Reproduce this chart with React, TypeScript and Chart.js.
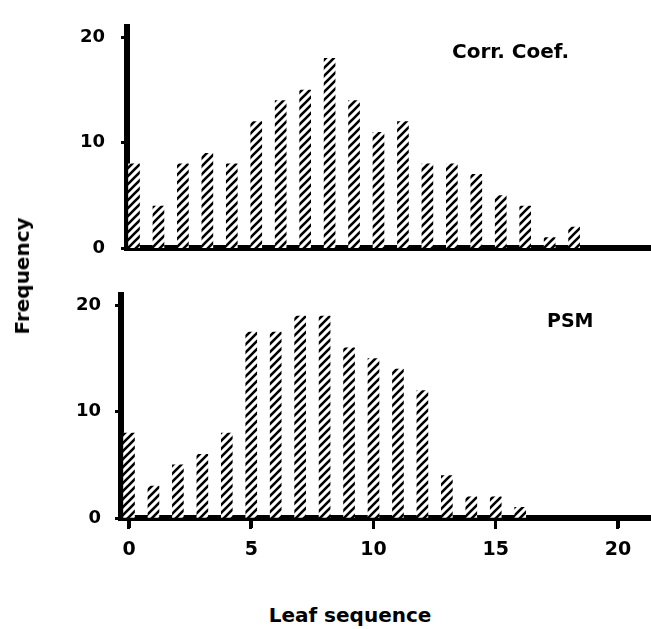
import React, { useEffect, useRef } from "react";
import { Chart, registerables } from "chart.js";

Chart.register(...registerables);

// ---- data ----
const corrLeafSeq = [0, 1, 2, 3, 4, 5, 6, 7, 8, 9, 10, 11, 12, 13, 14, 15, 16, 17, 18];
const corrCoefFreq = [8, 4, 8, 9, 8, 12, 14, 15, 18, 14, 11, 12, 8, 8, 7, 5, 4, 1, 2];
const psmLeafSeq = [0, 1, 2, 3, 4, 5, 6, 7, 8, 9, 10, 11, 12, 13, 14, 15, 16];
const psmFreq = [8, 3, 5, 6, 8, 17.5, 17.5, 19, 19, 16, 15, 14, 12, 4, 2, 2, 1];
const yTickValues = [0, 10, 20];
const xTickValues = [0, 5, 10, 15, 20];
const xAxisTitle = "Leaf sequence";
const yAxisTitle = "Frequency";
const topPanelLabel = "Corr. Coef.";
const bottomPanelLabel = "PSM";

const FONT = "'DejaVu Sans', 'Liberation Sans', sans-serif";

function makeHatch(ctx: CanvasRenderingContext2D) {
  const t = document.createElement("canvas");
  t.width = 8;
  t.height = 8;
  const c = t.getContext("2d")!;
  c.fillStyle = "#fff";
  c.fillRect(0, 0, 8, 8);
  c.strokeStyle = "#000";
  c.lineWidth = 2.6;
  c.beginPath();
  c.moveTo(-2, 10);
  c.lineTo(10, -2);
  c.moveTo(-2, 2);
  c.lineTo(2, -2);
  c.moveTo(6, 10);
  c.lineTo(10, 6);
  c.stroke();
  return ctx.createPattern(t, "repeat")!;
}

function makeTickMarkPlugin(id: string, show: boolean) {
  return {
    id,
    afterDraw(chart: any) {
      if (!show) return;
      const ctx = chart.ctx as CanvasRenderingContext2D;
      const xs = chart.scales.x;
      const base = chart.chartArea.bottom;
      ctx.save();
      ctx.fillStyle = "#000";
      for (const v of xTickValues) {
        const px = Math.round(xs.getPixelForValue(v));
        ctx.fillRect(px - 2, base, 3, 11);
      }
      ctx.restore();
    },
  };
}

type PanelOpts = {
  id: string;
  xs: number[];
  ys: number[];
  padTop: number;
  xHeight: number;
  yWidth: number;
  xMin: number;
  xMax: number;
  showX: boolean;
  yLabelPad: number;
  yFont: number;
};

function makeChart(canvas: HTMLCanvasElement, o: PanelOpts) {
  const ctx = canvas.getContext("2d")!;
  const hatch = makeHatch(ctx);
  return new Chart(canvas, {
    type: "bar",
    data: {
      datasets: [
        {
          data: o.xs.map((x, i) => ({ x, y: o.ys[i] })),
          backgroundColor: hatch,
          borderWidth: 0,
          barThickness: 11,
        },
      ],
    },
    plugins: [makeTickMarkPlugin(o.id, o.showX)],
    options: {
      responsive: false,
      animation: false,
      layout: { padding: { top: o.padTop, left: 0, right: 0, bottom: 0 } },
      plugins: {
        legend: { display: false },
        tooltip: { enabled: false },
      },
      scales: {
        x: {
          type: "linear",
          min: o.xMin,
          max: o.xMax,
          offset: false,
          grid: {
            display: true,
            offset: false,
            drawOnChartArea: false,
            drawTicks: o.showX,
            tickLength: 10,
            tickWidth: 3,
            tickColor: "#000",
          },
          border: { display: true, color: "#000", width: 6 },
          ticks: {
            display: o.showX,
            color: "#000",
            padding: 11,
            maxRotation: 0,
            font: { family: FONT, size: 19, weight: "bold" },
          },
          afterBuildTicks: (s: any) => {
            s.ticks = xTickValues.map((v) => ({ value: v }));
          },
          afterFit: (s: any) => {
            s.height = o.xHeight;
          },
        },
        y: {
          min: 0,
          max: 21,
          grid: {
            display: true,
            drawOnChartArea: false,
            drawTicks: true,
            tickLength: 6,
            tickWidth: 3,
            tickColor: "#000",
          },
          border: { display: true, color: "#000", width: 6 },
          ticks: {
            color: "#000",
            padding: o.yLabelPad,
            font: { family: FONT, size: o.yFont, weight: "bold" },
          },
          afterBuildTicks: (s: any) => {
            s.ticks = yTickValues.map((v) => ({ value: v }));
          },
          afterFit: (s: any) => {
            s.width = o.yWidth;
          },
        },
      },
    },
  } as any);
}

export default function App() {
  const topRef = useRef<HTMLCanvasElement>(null);
  const botRef = useRef<HTMLCanvasElement>(null);

  useEffect(() => {
    const unit = 24.45;
    const top = makeChart(topRef.current!, {
      id: "tickMarksTop",
      xs: corrLeafSeq,
      ys: corrCoefFreq,
      padTop: 9,
      xHeight: 12,
      yWidth: 127,
      xMin: -7 / unit,
      xMax: -7 / unit + 524 / unit,
      showX: false,
      yLabelPad: 16,
      yFont: 18,
    });
    const bot = makeChart(botRef.current!, {
      id: "tickMarksBottom",
      xs: psmLeafSeq,
      ys: psmFreq,
      padTop: 3,
      xHeight: 52,
      yWidth: 121,
      xMin: -8 / unit,
      xMax: -8 / unit + 530 / unit,
      showX: true,
      yLabelPad: 14,
      yFont: 18,
    });
    return () => {
      top.destroy();
      bot.destroy();
    };
  }, []);

  const textStyle: React.CSSProperties = {
    position: "absolute",
    fontFamily: FONT,
    fontWeight: "bold",
    color: "#000",
    whiteSpace: "nowrap",
    lineHeight: "normal",
  };

  return (
    <div style={{ position: "absolute", left: 0, top: 0, width: 651, height: 629, background: "#fff", overflow: "hidden" }}>
      <canvas ref={topRef} width={651} height={275} style={{ position: "absolute", left: 0, top: 0 }} />
      <canvas ref={botRef} width={651} height={300} style={{ position: "absolute", left: 0, top: 270 }} />
      <div style={{ ...textStyle, fontSize: 20, left: 452, top: 39 }}>{topPanelLabel}</div>
      <div style={{ ...textStyle, fontSize: 19, left: 547, top: 309 }}>{bottomPanelLabel}</div>
      <div style={{ ...textStyle, fontSize: 20, left: 350, top: 603, transform: "translateX(-50%)" }}>{xAxisTitle}</div>
      <div
        style={{
          ...textStyle,
          fontSize: 20,
          left: 22,
          top: 276,
          transform: "translate(-50%, -50%) rotate(-90deg)",
        }}
      >
        {yAxisTitle}
      </div>
    </div>
  );
}
